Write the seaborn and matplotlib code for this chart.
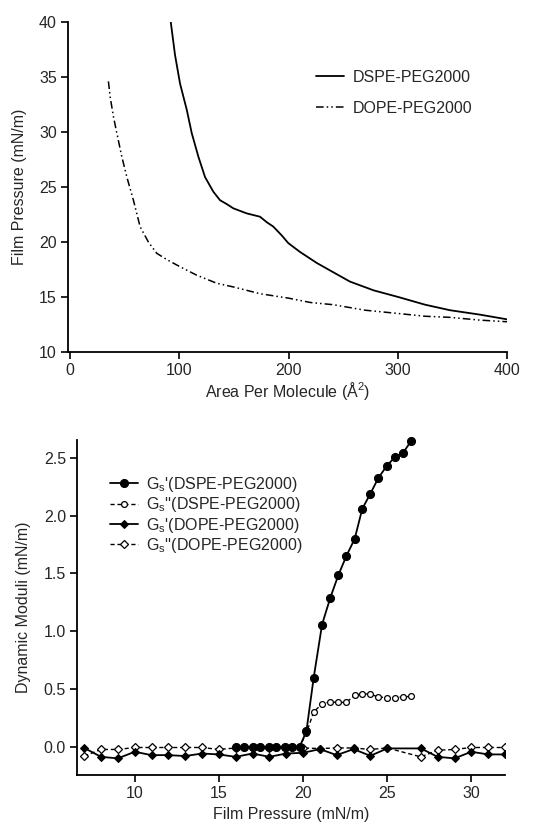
import numpy as np
import pandas as pd
import matplotlib
matplotlib.use("Agg")
import matplotlib.pyplot as plt
import seaborn as sns

# ---------------- data: isotherms ----------------
dspe_area = [92.1, 96, 100.6, 106.8, 111.3, 117.4, 123.5, 131.1, 137.2, 143.3, 149.4, 161.7,
             173.8, 180, 186, 193.7, 199.7, 210.4, 225.7, 240, 256.2, 278, 300.4, 325,
             347.7, 375, 400]
dspe_pi = [40, 37, 34.4, 32.0, 29.9, 27.75, 25.9, 24.57, 23.8, 23.45, 23.06, 22.6,
           22.3, 21.8, 21.4, 20.6, 19.9, 19.1, 18.1, 17.3, 16.4, 15.6, 15.0, 14.3,
           13.8, 13.4, 12.97]
dope_area = [35, 36.6, 39.6, 42.7, 47.3, 51.9, 57.9, 64, 71.6, 79.3, 88.5, 100.6, 115.9,
             134.2, 150, 173.8, 199.7, 220, 240.9, 270, 300.4, 325, 347.7, 375, 400]
dope_pi = [34.6, 33.2, 31.4, 29.9, 27.75, 25.9, 23.8, 21.4, 20.0, 18.97, 18.4, 17.75, 16.98,
           16.25, 15.9, 15.3, 14.9, 14.5, 14.3, 13.8, 13.5, 13.25, 13.15, 12.9, 12.75]

# ---------------- data: dynamic moduli ----------------
dspe_p = [16.0, 16.5, 17.0, 17.45, 17.95, 18.4, 18.9, 19.35, 19.8, 20.2, 20.63, 21.13, 21.62,
          22.1, 22.57, 23.07, 23.52, 24.0, 24.47, 24.97, 25.45, 25.94, 26.44]
dspe_gs1 = [0.0, 0.0, 0.0, 0.0, 0.0, 0.0, 0.0, 0.0, 0.0, 0.135, 0.595, 1.058, 1.29,
            1.486, 1.65, 1.80, 2.06, 2.19, 2.325, 2.43, 2.506, 2.543, 2.65]
dspe_gs2 = [0.0, 0.0, 0.0, 0.0, 0.0, 0.0, 0.0, 0.0, 0.0, 0.12, 0.30, 0.374, 0.388,
            0.384, 0.384, 0.446, 0.46, 0.455, 0.431, 0.425, 0.425, 0.433, 0.436]
dope_p = [7, 8, 9, 10, 11, 12, 13, 14, 15, 16, 17, 18, 19, 20, 21, 22, 23, 24, 25,
          27, 28, 29, 30, 31, 32]
dope_gs1 = [-0.01, -0.087, -0.10, -0.043, -0.072, -0.072, -0.08, -0.058, -0.066, -0.087,
            -0.058, -0.087, -0.058, -0.052, -0.02, -0.072, -0.02, -0.078, -0.014,
            -0.014, -0.087, -0.10, -0.043, -0.066, -0.066]
dope_gs2 = [-0.08, -0.023, -0.023, -0.006, -0.006, -0.006, -0.006, -0.006, -0.023, -0.01,
            -0.01, -0.01, -0.01, -0.01, -0.015, -0.01, -0.01, -0.023, -0.01,
            -0.087, -0.03, -0.023, -0.006, -0.006, -0.006]

sns.set_style("ticks")
plt.rcParams['font.family'] = ['Liberation Sans', 'DejaVu Sans']
plt.rcParams['mathtext.fontset'] = 'custom'
plt.rcParams['mathtext.rm'] = 'Liberation Sans'
plt.rcParams['mathtext.it'] = 'Liberation Sans'
fs = 11.5

W, H = 533, 823
fig = plt.figure(figsize=(W / 100, H / 100), dpi=100)

def ax_at(l, r, t, b):
    return fig.add_axes([l / W, 1 - b / H, (r - l) / W, (b - t) / H])

# ---------------- top panel ----------------
ax1 = ax_at(68, 507, 22, 352)
sns.lineplot(x=dspe_area, y=dspe_pi, ax=ax1, color='black', lw=1.3, sort=False,
             label='DSPE-PEG2000')
sns.lineplot(x=dope_area, y=dope_pi, ax=ax1, color='black', lw=1.1, sort=False,
             linestyle=(0, (5, 2, 1, 2, 1, 2)), label='DOPE-PEG2000')
ax1.set_xlim(-2, 400)
ax1.set_ylim(10, 40)
ax1.set_xticks([0, 100, 200, 300, 400])
ax1.set_yticks([10, 15, 20, 25, 30, 35, 40])
ax1.set_xlabel('Area Per Molecule (Å$^2$)', fontsize=fs, labelpad=1)
ax1.set_ylabel('Film Pressure (mN/m)', fontsize=fs, labelpad=9)
ax1.legend(loc='upper left', bbox_to_anchor=(316 / W, 1 - 70 / H),
           bbox_transform=fig.transFigure, frameon=False, fontsize=fs,
           borderpad=0, borderaxespad=0, labelspacing=1.0,
           handlelength=1.75, handletextpad=0.55)

# ---------------- bottom panel ----------------
ax2 = ax_at(77, 505, 440, 775)
dash = (0, (3, 2))
sns.lineplot(x=dope_p, y=dope_gs2, ax=ax2, color='black', lw=1.0, linestyle=dash,
             marker='D', markersize=4, markerfacecolor='white', markeredgecolor='black',
             markeredgewidth=0.9, label="G$_s$''(DOPE-PEG2000)", zorder=2)
sns.lineplot(x=dope_p, y=dope_gs1, ax=ax2, color='black', lw=1.3,
             marker='D', markersize=4, markerfacecolor='black', markeredgecolor='black',
             label="G$_s$'(DOPE-PEG2000)", zorder=3)
sns.lineplot(x=dspe_p, y=dspe_gs2, ax=ax2, color='black', lw=1.0, linestyle=dash,
             marker='o', markersize=4.2, markerfacecolor='white', markeredgecolor='black',
             markeredgewidth=0.9, label="G$_s$''(DSPE-PEG2000)", zorder=4)
sns.lineplot(x=dspe_p, y=dspe_gs1, ax=ax2, color='black', lw=1.3,
             marker='o', markersize=5.8, markerfacecolor='black', markeredgecolor='black',
             label="G$_s$'(DSPE-PEG2000)", zorder=5, clip_on=False)
ax2.set_xlim(6.57, 32)
ax2.set_ylim(-0.244, 2.655)
ax2.set_xticks([10, 15, 20, 25, 30])
ax2.set_yticks([0.0, 0.5, 1.0, 1.5, 2.0, 2.5])
ax2.set_yticklabels(['0.0', '0.5', '1.0', '1.5', '2.0', '2.5'])
ax2.set_xlabel('Film Pressure (mN/m)', fontsize=fs, labelpad=4)
ax2.set_ylabel('Dynamic Moduli (mN/m)', fontsize=fs, labelpad=9)
h, l = ax2.get_legend_handles_labels()
order = [3, 2, 1, 0]
ax2.legend([h[i] for i in order], [l[i] for i in order], loc='upper left',
           bbox_to_anchor=(110 / W, 1 - 475 / H), bbox_transform=fig.transFigure,
           frameon=False, fontsize=fs, borderpad=0, borderaxespad=0,
           labelspacing=0.08, handlelength=1.75, handletextpad=0.5)

for ax in (ax1, ax2):
    sns.despine(ax=ax)
    for s in ('left', 'bottom'):
        ax.spines[s].set_linewidth(1.3)
        ax.spines[s].set_color('black')
    ax.tick_params(direction='out', length=5, width=1.2, labelsize=fs, color='black',
                   pad=3)

fig.savefig('out.png', dpi=100)
